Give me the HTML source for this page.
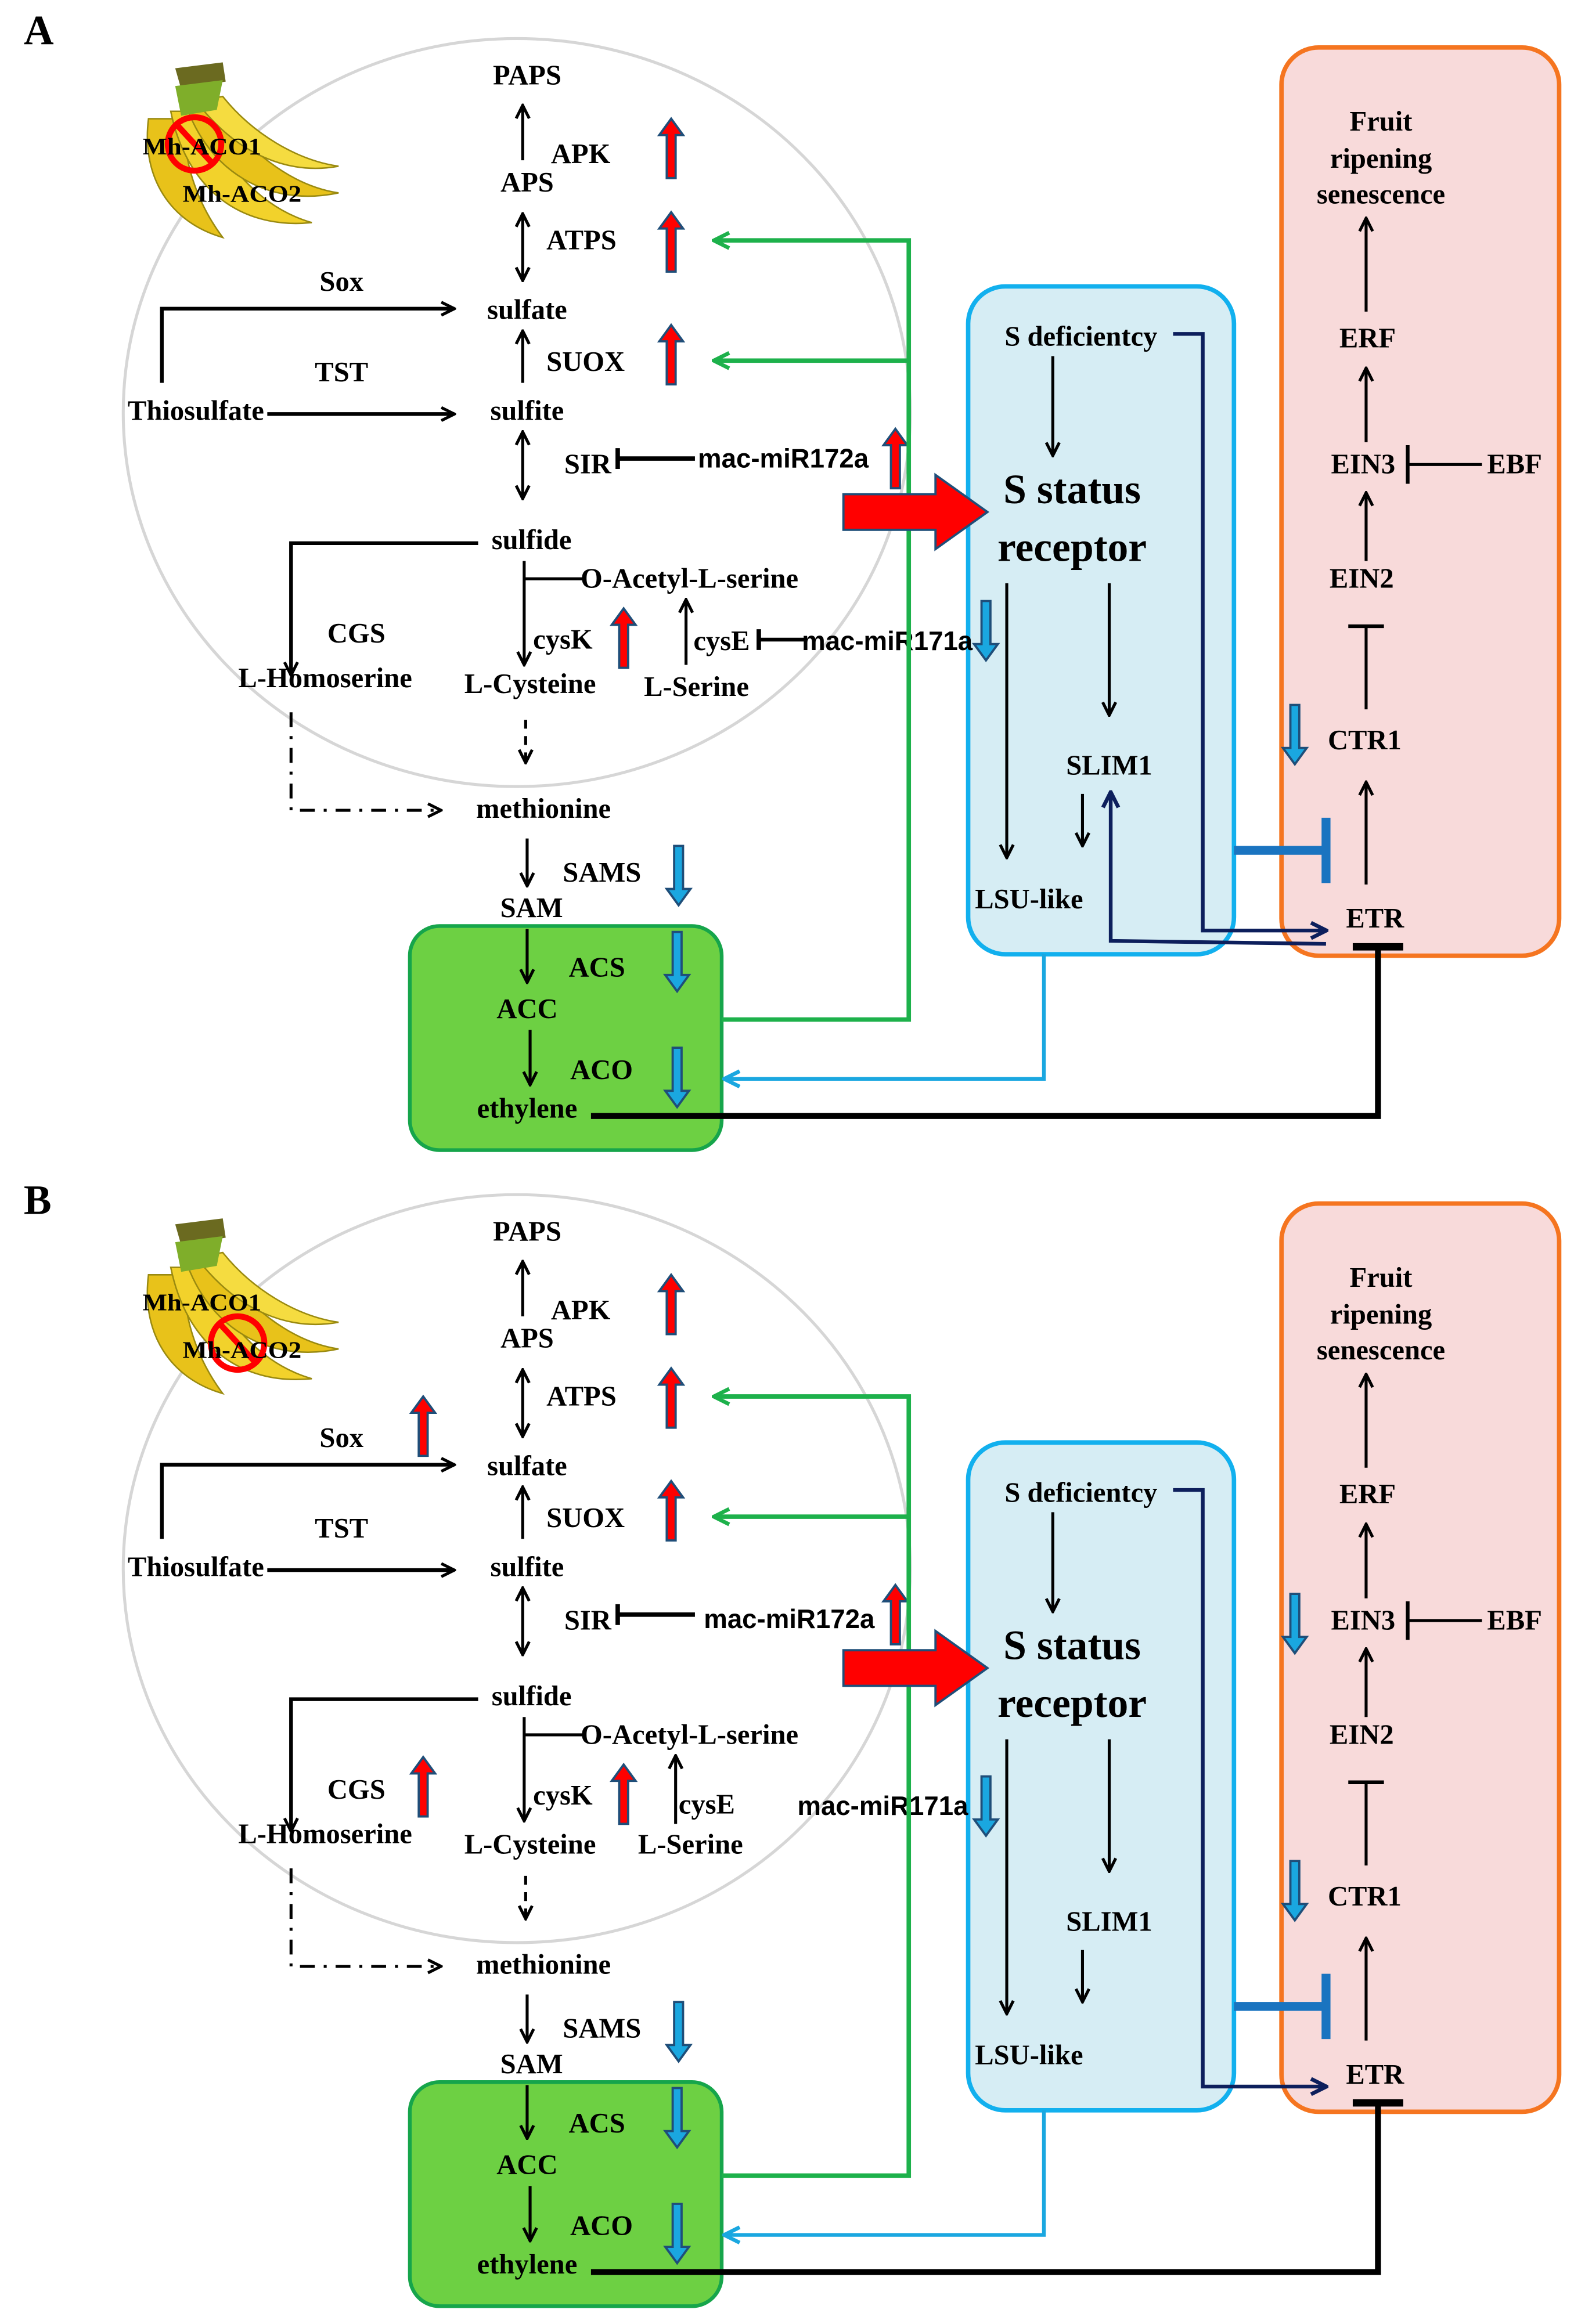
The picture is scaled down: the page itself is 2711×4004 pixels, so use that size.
<!DOCTYPE html>
<html><head><meta charset="utf-8"><style>
html,body{margin:0;padding:0;background:#fff}
svg{display:block}
text{font-family:"Liberation Serif","Times New Roman",serif;font-weight:bold;fill:#000}
text.s{font-family:"Liberation Sans Narrow","Liberation Sans",sans-serif;font-weight:bold}
</style></head><body>
<svg width="2711" height="4004" viewBox="0 0 1060 1566" preserveAspectRatio="none" xmlns="http://www.w3.org/2000/svg" font-family="Liberation Serif">
<defs>
<marker id="ah" viewBox="0 0 10 10" refX="9" refY="5" markerWidth="11" markerHeight="11" orient="auto-start-reverse" markerUnits="userSpaceOnUse"><path d="M1 1 L9 5 L1 9" fill="none" stroke="#000" stroke-width="1.8"/></marker>
<marker id="ag" viewBox="0 0 10 10" refX="8" refY="5" markerWidth="13" markerHeight="13" orient="auto" markerUnits="userSpaceOnUse"><path d="M1 1 L9 5 L1 9" fill="none" stroke="#1db14b" stroke-width="2"/></marker>
<marker id="ab" viewBox="0 0 10 10" refX="8" refY="5" markerWidth="13" markerHeight="13" orient="auto" markerUnits="userSpaceOnUse"><path d="M1 1 L9 5 L1 9" fill="none" stroke="#1aa7e0" stroke-width="2"/></marker>
<marker id="an" viewBox="0 0 10 10" refX="8" refY="5" markerWidth="13" markerHeight="13" orient="auto" markerUnits="userSpaceOnUse"><path d="M1 1 L9 5 L1 9" fill="none" stroke="#0d1f5c" stroke-width="2"/></marker>
<path id="up" d="M8 0 L16 11 L11 11 L11 40 L5 40 L5 11 L0 11 Z"/>
<path id="dn" d="M5 0 L11 0 L11 29 L16 29 L8 40 L0 29 L5 29 Z"/>
</defs>
<rect width="1060" height="1566" fill="#fff"/>

<!-- ========== PANEL A ========== -->
<g>
<text x="16" y="30" font-size="28">A</text>
<ellipse cx="348" cy="278" rx="265" ry="252" fill="none" stroke="#d6d6d6" stroke-width="2"/>
<g>
<path d="M100 80 C95 120 115 150 150 160 C135 140 122 110 125 80 Z" fill="#e8c21a" stroke="#9a8a10" stroke-width="1"/>
<path d="M115 75 C125 125 160 155 210 150 C175 140 150 110 135 75 Z" fill="#f2d22b" stroke="#9a8a10" stroke-width="1"/>
<path d="M125 70 C140 115 180 140 228 130 C195 125 165 100 145 70 Z" fill="#e8c21a" stroke="#9a8a10" stroke-width="1"/>
<path d="M132 68 C160 105 195 118 228 112 C200 108 170 90 150 65 Z" fill="#f5dc40" stroke="#9a8a10" stroke-width="1"/>
<path d="M118 46 L150 42 L152 55 L122 60 Z" fill="#6b6a20"/>
<path d="M118 58 L150 54 L146 74 L122 78 Z" fill="#7fae2a"/>
</g>
<circle cx="131" cy="97" r="18" fill="none" stroke="#f00" stroke-width="4"/>
<line x1="119" y1="84" x2="143" y2="110" stroke="#f00" stroke-width="4"/>
<text x="96" y="104" font-size="16" textLength="80" lengthAdjust="spacingAndGlyphs">Mh-ACO1</text>
<text x="123" y="136" font-size="16" textLength="80" lengthAdjust="spacingAndGlyphs">Mh-ACO2</text>

<rect x="652" y="193" width="179" height="450" rx="25" fill="#d6edf4" stroke="#12b0ee" stroke-width="3"/>
<rect x="863" y="32" width="187" height="612" rx="25" fill="#f8dada" stroke="#f57520" stroke-width="3"/>
<rect x="276" y="624" width="210" height="151" rx="20" fill="#6dd043" stroke="#16a54b" stroke-width="2.5"/>

<text x="355" y="57" font-size="19" text-anchor="middle">PAPS</text>
<line x1="352" y1="108" x2="352" y2="71" stroke="#000" stroke-width="2" marker-end="url(#ah)"/>
<text x="371" y="110" font-size="19">APK</text>
<text x="355" y="129" font-size="19" text-anchor="middle">APS</text>
<use href="#up" x="444" y="80" fill="#f00" stroke="#1f4e79" stroke-width="1.5"/>
<line x1="352" y1="144" x2="352" y2="189" stroke="#000" stroke-width="2" marker-end="url(#ah)" marker-start="url(#ah)"/>
<text x="368" y="168" font-size="19">ATPS</text>
<use href="#up" x="444" y="143" fill="#f00" stroke="#1f4e79" stroke-width="1.5"/>
<text x="230" y="196" font-size="19" text-anchor="middle">Sox</text>
<polyline points="109,258 109,208 306,208" fill="none" stroke="#000" stroke-width="2.5" marker-end="url(#ah)"/>
<text x="355" y="215" font-size="19" text-anchor="middle">sulfate</text>
<line x1="352" y1="258" x2="352" y2="223" stroke="#000" stroke-width="2" marker-end="url(#ah)"/>
<text x="368" y="250" font-size="19">SUOX</text>
<use href="#up" x="444" y="219" fill="#f00" stroke="#1f4e79" stroke-width="1.5"/>
<text x="230" y="257" font-size="19" text-anchor="middle">TST</text>
<text x="86" y="283" font-size="19">Thiosulfate</text>
<line x1="180" y1="279" x2="306" y2="279" stroke="#000" stroke-width="2.5" marker-end="url(#ah)"/>
<text x="355" y="283" font-size="19" text-anchor="middle">sulfite</text>
<line x1="352" y1="291" x2="352" y2="336" stroke="#000" stroke-width="2" marker-end="url(#ah)" marker-start="url(#ah)"/>
<text x="380" y="319" font-size="19">SIR</text>
<line x1="416" y1="309" x2="468" y2="309" stroke="#000" stroke-width="3"/><line x1="416" y1="302" x2="416" y2="316" stroke="#000" stroke-width="3"/>
<text x="470" y="315" font-size="18" class="s" textLength="115" lengthAdjust="spacingAndGlyphs">mac-miR172a</text>
<use href="#up" x="595" y="289" fill="#f00" stroke="#1f4e79" stroke-width="1.5"/>
<text x="358" y="370" font-size="19" text-anchor="middle">sulfide</text>
<polyline points="322,366 196,366 196,455" fill="none" stroke="#000" stroke-width="2.5" marker-end="url(#ah)"/>
<text x="240" y="433" font-size="19" text-anchor="middle">CGS</text>
<text x="219" y="463" font-size="19" text-anchor="middle">L-Homoserine</text>
<line x1="353" y1="378" x2="353" y2="448" stroke="#000" stroke-width="2" marker-end="url(#ah)"/>
<line x1="353" y1="390" x2="392" y2="390" stroke="#000" stroke-width="2"/>
<text x="391" y="396" font-size="19">O-Acetyl-L-serine</text>
<text x="359" y="437" font-size="19">cysK</text>
<use href="#up" x="412" y="410" fill="#f00" stroke="#1f4e79" stroke-width="1.5"/>
<text x="357" y="467" font-size="19" text-anchor="middle">L-Cysteine</text>
<line x1="462" y1="448" x2="462" y2="404" stroke="#000" stroke-width="2" marker-end="url(#ah)"/>
<text x="467" y="438" font-size="19">cysE</text>
<line x1="511" y1="431" x2="542" y2="431" stroke="#000" stroke-width="2.5"/><line x1="511" y1="424" x2="511" y2="438" stroke="#000" stroke-width="3"/>
<text x="540" y="438" font-size="18" class="s" textLength="115" lengthAdjust="spacingAndGlyphs">mac-miR171a</text>
<use href="#dn" x="656" y="405" fill="#1aa7e0" stroke="#1f4e79" stroke-width="1.5"/>
<text x="469" y="469" font-size="19" text-anchor="middle">L-Serine</text>
<line x1="354" y1="485" x2="354" y2="514" stroke="#000" stroke-width="2" stroke-dasharray="6,5" marker-end="url(#ah)"/>
<polyline points="196,480 196,546 297,546" fill="none" stroke="#000" stroke-width="2" stroke-dasharray="10,6,2,6" marker-end="url(#ah)"/>
<text x="366" y="551" font-size="19" text-anchor="middle">methionine</text>
<line x1="355" y1="565" x2="355" y2="597" stroke="#000" stroke-width="2" marker-end="url(#ah)"/>
<text x="379" y="594" font-size="19">SAMS</text>
<use href="#dn" x="449" y="570" fill="#1aa7e0" stroke="#1f4e79" stroke-width="1.5"/>
<text x="358" y="618" font-size="19" text-anchor="middle">SAM</text>
<line x1="355" y1="626" x2="355" y2="662" stroke="#000" stroke-width="2" marker-end="url(#ah)"/>
<text x="383" y="658" font-size="19">ACS</text>
<use href="#dn" x="448" y="628" fill="#1aa7e0" stroke="#1f4e79" stroke-width="1.5"/>
<text x="355" y="686" font-size="19" text-anchor="middle">ACC</text>
<line x1="357" y1="694" x2="357" y2="731" stroke="#000" stroke-width="2" marker-end="url(#ah)"/>
<text x="384" y="727" font-size="19">ACO</text>
<use href="#dn" x="448" y="706" fill="#1aa7e0" stroke="#1f4e79" stroke-width="1.5"/>
<text x="355" y="753" font-size="19" text-anchor="middle">ethylene</text>
<polyline points="398,752 928,752 928,638" fill="none" stroke="#000" stroke-width="4"/>
<line x1="911" y1="638" x2="945" y2="638" stroke="#000" stroke-width="5"/>
<polyline points="486,687 612,687 612,162 482,162" fill="none" stroke="#1db14b" stroke-width="3" marker-end="url(#ag)"/>
<line x1="612" y1="243" x2="482" y2="243" stroke="#1db14b" stroke-width="3" marker-end="url(#ag)"/>
<path d="M568 333 L630 333 L630 320 L665 345 L630 370 L630 357 L568 357 Z" fill="#f00" stroke="#1f4e79" stroke-width="1.5"/>
<text x="728" y="233" font-size="19" text-anchor="middle">S deficientcy</text>
<polyline points="790,225 810,225 810,627 892,627" fill="none" stroke="#0d1f5c" stroke-width="2.5" marker-end="url(#an)"/>
<line x1="709" y1="240" x2="709" y2="307" stroke="#000" stroke-width="2" marker-end="url(#ah)"/>
<text x="722" y="339" font-size="28" text-anchor="middle">S status</text>
<text x="722" y="378" font-size="28" text-anchor="middle">receptor</text>
<line x1="678" y1="393" x2="678" y2="578" stroke="#000" stroke-width="2" marker-end="url(#ah)"/>
<line x1="747" y1="393" x2="747" y2="482" stroke="#000" stroke-width="2" marker-end="url(#ah)"/>
<text x="747" y="522" font-size="19" text-anchor="middle">SLIM1</text>
<line x1="729" y1="535" x2="729" y2="570" stroke="#000" stroke-width="2" marker-end="url(#ah)"/>
<polyline points="893,636 748,634 748,535" fill="none" stroke="#0d1f5c" stroke-width="2.5" marker-end="url(#an)"/>
<text x="693" y="612" font-size="19" text-anchor="middle">LSU-like</text>
<polyline points="703,643 703,727 489,727" fill="none" stroke="#1aa7e0" stroke-width="2.5" marker-end="url(#ab)"/>
<line x1="831" y1="573" x2="893" y2="573" stroke="#1a74c0" stroke-width="6"/>
<line x1="893" y1="551" x2="893" y2="595" stroke="#1a74c0" stroke-width="6"/>
<text x="930" y="88" font-size="19" text-anchor="middle">Fruit</text>
<text x="930" y="113" font-size="19" text-anchor="middle">ripening</text>
<text x="930" y="137" font-size="19" text-anchor="middle">senescence</text>
<line x1="920" y1="210" x2="920" y2="147" stroke="#000" stroke-width="2" marker-end="url(#ah)"/>
<text x="921" y="234" font-size="19" text-anchor="middle">ERF</text>
<line x1="920" y1="298" x2="920" y2="248" stroke="#000" stroke-width="2" marker-end="url(#ah)"/>
<text x="918" y="319" font-size="19" text-anchor="middle">EIN3</text>
<line x1="948" y1="313" x2="998" y2="313" stroke="#000" stroke-width="2"/><line x1="948" y1="300" x2="948" y2="326" stroke="#000" stroke-width="2.5"/>
<text x="1020" y="319" font-size="19" text-anchor="middle">EBF</text>
<line x1="920" y1="378" x2="920" y2="332" stroke="#000" stroke-width="2" marker-end="url(#ah)"/>
<text x="917" y="396" font-size="19" text-anchor="middle">EIN2</text>
<line x1="920" y1="478" x2="920" y2="422" stroke="#000" stroke-width="2"/><line x1="908" y1="422" x2="932" y2="422" stroke="#000" stroke-width="2.5"/>
<text x="919" y="505" font-size="19" text-anchor="middle">CTR1</text>
<use href="#dn" x="864" y="475" fill="#1aa7e0" stroke="#1f4e79" stroke-width="1.5"/>
<line x1="920" y1="596" x2="920" y2="527" stroke="#000" stroke-width="2" marker-end="url(#ah)"/>
<text x="926" y="625" font-size="19" text-anchor="middle">ETR</text>
</g>

<!-- ========== PANEL B ========== -->
<g transform="translate(0,779)">
<text x="16" y="39" font-size="28">B</text>
<ellipse cx="348" cy="278" rx="265" ry="252" fill="none" stroke="#d6d6d6" stroke-width="2"/>
<g>
<path d="M100 80 C95 120 115 150 150 160 C135 140 122 110 125 80 Z" fill="#e8c21a" stroke="#9a8a10" stroke-width="1"/>
<path d="M115 75 C125 125 160 155 210 150 C175 140 150 110 135 75 Z" fill="#f2d22b" stroke="#9a8a10" stroke-width="1"/>
<path d="M125 70 C140 115 180 140 228 130 C195 125 165 100 145 70 Z" fill="#e8c21a" stroke="#9a8a10" stroke-width="1"/>
<path d="M132 68 C160 105 195 118 228 112 C200 108 170 90 150 65 Z" fill="#f5dc40" stroke="#9a8a10" stroke-width="1"/>
<path d="M118 46 L150 42 L152 55 L122 60 Z" fill="#6b6a20"/>
<path d="M118 58 L150 54 L146 74 L122 78 Z" fill="#7fae2a"/>
</g>
<circle cx="160" cy="126" r="18" fill="none" stroke="#f00" stroke-width="4"/>
<line x1="148" y1="113" x2="172" y2="139" stroke="#f00" stroke-width="4"/>
<text x="96" y="104" font-size="16" textLength="80" lengthAdjust="spacingAndGlyphs">Mh-ACO1</text>
<text x="123" y="136" font-size="16" textLength="80" lengthAdjust="spacingAndGlyphs">Mh-ACO2</text>

<rect x="652" y="193" width="179" height="450" rx="25" fill="#d6edf4" stroke="#12b0ee" stroke-width="3"/>
<rect x="863" y="32" width="187" height="612" rx="25" fill="#f8dada" stroke="#f57520" stroke-width="3"/>
<rect x="276" y="624" width="210" height="151" rx="20" fill="#6dd043" stroke="#16a54b" stroke-width="2.5"/>

<text x="355" y="57" font-size="19" text-anchor="middle">PAPS</text>
<line x1="352" y1="108" x2="352" y2="71" stroke="#000" stroke-width="2" marker-end="url(#ah)"/>
<text x="371" y="110" font-size="19">APK</text>
<text x="355" y="129" font-size="19" text-anchor="middle">APS</text>
<use href="#up" x="444" y="80" fill="#f00" stroke="#1f4e79" stroke-width="1.5"/>
<line x1="352" y1="144" x2="352" y2="189" stroke="#000" stroke-width="2" marker-end="url(#ah)" marker-start="url(#ah)"/>
<text x="368" y="168" font-size="19">ATPS</text>
<use href="#up" x="444" y="143" fill="#f00" stroke="#1f4e79" stroke-width="1.5"/>
<text x="230" y="196" font-size="19" text-anchor="middle">Sox</text>
<use href="#up" x="277" y="162" fill="#f00" stroke="#1f4e79" stroke-width="1.5"/>
<polyline points="109,258 109,208 306,208" fill="none" stroke="#000" stroke-width="2.5" marker-end="url(#ah)"/>
<text x="355" y="215" font-size="19" text-anchor="middle">sulfate</text>
<line x1="352" y1="258" x2="352" y2="223" stroke="#000" stroke-width="2" marker-end="url(#ah)"/>
<text x="368" y="250" font-size="19">SUOX</text>
<use href="#up" x="444" y="219" fill="#f00" stroke="#1f4e79" stroke-width="1.5"/>
<text x="230" y="257" font-size="19" text-anchor="middle">TST</text>
<text x="86" y="283" font-size="19">Thiosulfate</text>
<line x1="180" y1="279" x2="306" y2="279" stroke="#000" stroke-width="2.5" marker-end="url(#ah)"/>
<text x="355" y="283" font-size="19" text-anchor="middle">sulfite</text>
<line x1="352" y1="291" x2="352" y2="336" stroke="#000" stroke-width="2" marker-end="url(#ah)" marker-start="url(#ah)"/>
<text x="380" y="319" font-size="19">SIR</text>
<line x1="416" y1="309" x2="468" y2="309" stroke="#000" stroke-width="3"/><line x1="416" y1="302" x2="416" y2="316" stroke="#000" stroke-width="3"/>
<text x="474" y="318" font-size="18" class="s" textLength="115" lengthAdjust="spacingAndGlyphs">mac-miR172a</text>
<use href="#up" x="595" y="289" fill="#f00" stroke="#1f4e79" stroke-width="1.5"/>
<text x="358" y="370" font-size="19" text-anchor="middle">sulfide</text>
<polyline points="322,366 196,366 196,455" fill="none" stroke="#000" stroke-width="2.5" marker-end="url(#ah)"/>
<text x="240" y="433" font-size="19" text-anchor="middle">CGS</text>
<use href="#up" x="277" y="405" fill="#f00" stroke="#1f4e79" stroke-width="1.5"/>
<text x="219" y="463" font-size="19" text-anchor="middle">L-Homoserine</text>
<line x1="353" y1="378" x2="353" y2="448" stroke="#000" stroke-width="2" marker-end="url(#ah)"/>
<line x1="353" y1="390" x2="392" y2="390" stroke="#000" stroke-width="2"/>
<text x="391" y="396" font-size="19">O-Acetyl-L-serine</text>
<text x="359" y="437" font-size="19">cysK</text>
<use href="#up" x="412" y="410" fill="#f00" stroke="#1f4e79" stroke-width="1.5"/>
<text x="357" y="470" font-size="19" text-anchor="middle">L-Cysteine</text>
<line x1="455" y1="450" x2="455" y2="404" stroke="#000" stroke-width="2" marker-end="url(#ah)"/>
<text x="457" y="443" font-size="19">cysE</text>
<text x="537" y="444" font-size="18" class="s" textLength="115" lengthAdjust="spacingAndGlyphs">mac-miR171a</text>
<use href="#dn" x="656" y="418" fill="#1aa7e0" stroke="#1f4e79" stroke-width="1.5"/>
<text x="465" y="470" font-size="19" text-anchor="middle">L-Serine</text>
<line x1="354" y1="485" x2="354" y2="514" stroke="#000" stroke-width="2" stroke-dasharray="6,5" marker-end="url(#ah)"/>
<polyline points="196,480 196,546 297,546" fill="none" stroke="#000" stroke-width="2" stroke-dasharray="10,6,2,6" marker-end="url(#ah)"/>
<text x="366" y="551" font-size="19" text-anchor="middle">methionine</text>
<line x1="355" y1="565" x2="355" y2="597" stroke="#000" stroke-width="2" marker-end="url(#ah)"/>
<text x="379" y="594" font-size="19">SAMS</text>
<use href="#dn" x="449" y="570" fill="#1aa7e0" stroke="#1f4e79" stroke-width="1.5"/>
<text x="358" y="618" font-size="19" text-anchor="middle">SAM</text>
<line x1="355" y1="626" x2="355" y2="662" stroke="#000" stroke-width="2" marker-end="url(#ah)"/>
<text x="383" y="658" font-size="19">ACS</text>
<use href="#dn" x="448" y="628" fill="#1aa7e0" stroke="#1f4e79" stroke-width="1.5"/>
<text x="355" y="686" font-size="19" text-anchor="middle">ACC</text>
<line x1="357" y1="694" x2="357" y2="731" stroke="#000" stroke-width="2" marker-end="url(#ah)"/>
<text x="384" y="727" font-size="19">ACO</text>
<use href="#dn" x="448" y="706" fill="#1aa7e0" stroke="#1f4e79" stroke-width="1.5"/>
<text x="355" y="753" font-size="19" text-anchor="middle">ethylene</text>
<polyline points="398,752 928,752 928,638" fill="none" stroke="#000" stroke-width="4"/>
<line x1="911" y1="638" x2="945" y2="638" stroke="#000" stroke-width="5"/>
<polyline points="486,687 612,687 612,162 482,162" fill="none" stroke="#1db14b" stroke-width="3" marker-end="url(#ag)"/>
<line x1="612" y1="243" x2="482" y2="243" stroke="#1db14b" stroke-width="3" marker-end="url(#ag)"/>
<path d="M568 333 L630 333 L630 320 L665 345 L630 370 L630 357 L568 357 Z" fill="#f00" stroke="#1f4e79" stroke-width="1.5"/>
<text x="728" y="233" font-size="19" text-anchor="middle">S deficientcy</text>
<polyline points="790,225 810,225 810,627 892,627" fill="none" stroke="#0d1f5c" stroke-width="2.5" marker-end="url(#an)"/>
<line x1="709" y1="240" x2="709" y2="307" stroke="#000" stroke-width="2" marker-end="url(#ah)"/>
<text x="722" y="339" font-size="28" text-anchor="middle">S status</text>
<text x="722" y="378" font-size="28" text-anchor="middle">receptor</text>
<line x1="678" y1="393" x2="678" y2="578" stroke="#000" stroke-width="2" marker-end="url(#ah)"/>
<line x1="747" y1="393" x2="747" y2="482" stroke="#000" stroke-width="2" marker-end="url(#ah)"/>
<text x="747" y="522" font-size="19" text-anchor="middle">SLIM1</text>
<line x1="729" y1="535" x2="729" y2="570" stroke="#000" stroke-width="2" marker-end="url(#ah)"/>
<text x="693" y="612" font-size="19" text-anchor="middle">LSU-like</text>
<polyline points="703,643 703,727 489,727" fill="none" stroke="#1aa7e0" stroke-width="2.5" marker-end="url(#ab)"/>
<line x1="831" y1="573" x2="893" y2="573" stroke="#1a74c0" stroke-width="6"/>
<line x1="893" y1="551" x2="893" y2="595" stroke="#1a74c0" stroke-width="6"/>
<text x="930" y="88" font-size="19" text-anchor="middle">Fruit</text>
<text x="930" y="113" font-size="19" text-anchor="middle">ripening</text>
<text x="930" y="137" font-size="19" text-anchor="middle">senescence</text>
<line x1="920" y1="210" x2="920" y2="147" stroke="#000" stroke-width="2" marker-end="url(#ah)"/>
<text x="921" y="234" font-size="19" text-anchor="middle">ERF</text>
<line x1="920" y1="298" x2="920" y2="248" stroke="#000" stroke-width="2" marker-end="url(#ah)"/>
<text x="918" y="319" font-size="19" text-anchor="middle">EIN3</text>
<use href="#dn" x="864" y="295" fill="#1aa7e0" stroke="#1f4e79" stroke-width="1.5"/>
<line x1="948" y1="313" x2="998" y2="313" stroke="#000" stroke-width="2"/><line x1="948" y1="300" x2="948" y2="326" stroke="#000" stroke-width="2.5"/>
<text x="1020" y="319" font-size="19" text-anchor="middle">EBF</text>
<line x1="920" y1="378" x2="920" y2="332" stroke="#000" stroke-width="2" marker-end="url(#ah)"/>
<text x="917" y="396" font-size="19" text-anchor="middle">EIN2</text>
<line x1="920" y1="478" x2="920" y2="422" stroke="#000" stroke-width="2"/><line x1="908" y1="422" x2="932" y2="422" stroke="#000" stroke-width="2.5"/>
<text x="919" y="505" font-size="19" text-anchor="middle">CTR1</text>
<use href="#dn" x="864" y="475" fill="#1aa7e0" stroke="#1f4e79" stroke-width="1.5"/>
<line x1="920" y1="596" x2="920" y2="527" stroke="#000" stroke-width="2" marker-end="url(#ah)"/>
<text x="926" y="625" font-size="19" text-anchor="middle">ETR</text>
</g>
</svg>
</body></html>
